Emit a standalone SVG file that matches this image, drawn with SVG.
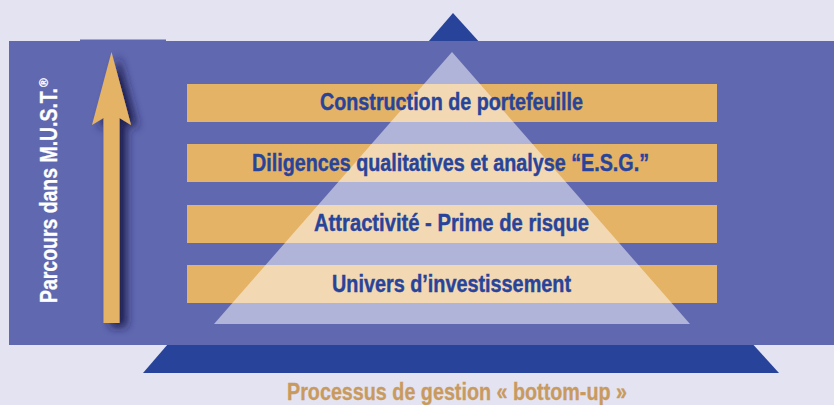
<svg xmlns="http://www.w3.org/2000/svg" width="834" height="405" viewBox="0 0 834 405">
  <defs>
    <style>
      .bar { fill: #e5b366; }
      .lbl { font-family: "Liberation Sans Narrow", "Liberation Sans", Arial, sans-serif; font-weight: bold; font-size: 23px; fill: #28449a; stroke: #28449a; stroke-width: 0.4; text-anchor: middle; }
      .side { font-family: "Liberation Sans Narrow", "Liberation Sans", Arial, sans-serif; font-weight: bold; font-size: 23px; fill: #ffffff; stroke: #ffffff; stroke-width: 0.3; }
      .foot { font-family: "Liberation Sans Narrow", "Liberation Sans", Arial, sans-serif; font-weight: bold; font-size: 23px; fill: #c99a5e; stroke: #c99a5e; stroke-width: 0.3; text-anchor: middle; }
    </style>
    <filter id="shadow" x="-100%" y="-20%" width="300%" height="140%">
      <feDropShadow dx="7" dy="4" stdDeviation="5" flood-color="#1a1d4d" flood-opacity="1"/>
    </filter>
  </defs>

  <rect id="background" x="0" y="0" width="834" height="405" fill="#e3e3f1"/>

  <g id="outer-pyramid">
    <polygon points="453,13 779,373 143,373" fill="#28449a"/>
  </g>

  <g id="panel">
    <rect x="9" y="41" width="825" height="304" fill="#6068b0"/>
    <rect x="80" y="39.5" width="86" height="2" fill="#6068b0"/>
  </g>

  <g id="arrow">
    <polygon points="111.5,52 131,125 119.5,118 119.5,323 103.5,323 103.5,118 92,125" fill="#e5b366" filter="url(#shadow)"/>
  </g>

  <g id="side-label">
    <g transform="translate(57,303) rotate(-90)">
      <text class="side" x="0" y="0" textLength="215" lengthAdjust="spacingAndGlyphs">Parcours dans M.U.S.T.</text>
      <text class="side" x="216" y="-9" style="font-size:12px">®</text>
    </g>
  </g>

  <g id="bars">
    <rect id="bar-portefeuille" class="bar" x="187" y="84" width="530" height="38"/>
    <rect id="bar-diligences" class="bar" x="187" y="144" width="530" height="38"/>
    <rect id="bar-attractivite" class="bar" x="187" y="205" width="530" height="38"/>
    <rect id="bar-univers" class="bar" x="187" y="265" width="530" height="38"/>
  </g>

  <g id="inner-pyramid">
    <polygon points="452,52 690,324 214,324" fill="#ffffff" fill-opacity="0.5"/>
  </g>

  <g id="labels">
    <text id="t-portefeuille" class="lbl" x="451.5" y="110" textLength="263" lengthAdjust="spacingAndGlyphs">Construction de portefeuille</text>
    <text id="t-diligences" class="lbl" x="450.5" y="171" textLength="397" lengthAdjust="spacingAndGlyphs">Diligences qualitatives et analyse “E.S.G.”</text>
    <text id="t-attractivite" class="lbl" x="451.5" y="231" textLength="275" lengthAdjust="spacingAndGlyphs">Attractivité - Prime de risque</text>
    <text id="t-univers" class="lbl" x="451.5" y="292" textLength="239" lengthAdjust="spacingAndGlyphs">Univers d’investissement</text>
  </g>

  <g id="footer">
    <text class="foot" x="457" y="400" textLength="340" lengthAdjust="spacingAndGlyphs">Processus de gestion « bottom-up »</text>
  </g>
</svg>
